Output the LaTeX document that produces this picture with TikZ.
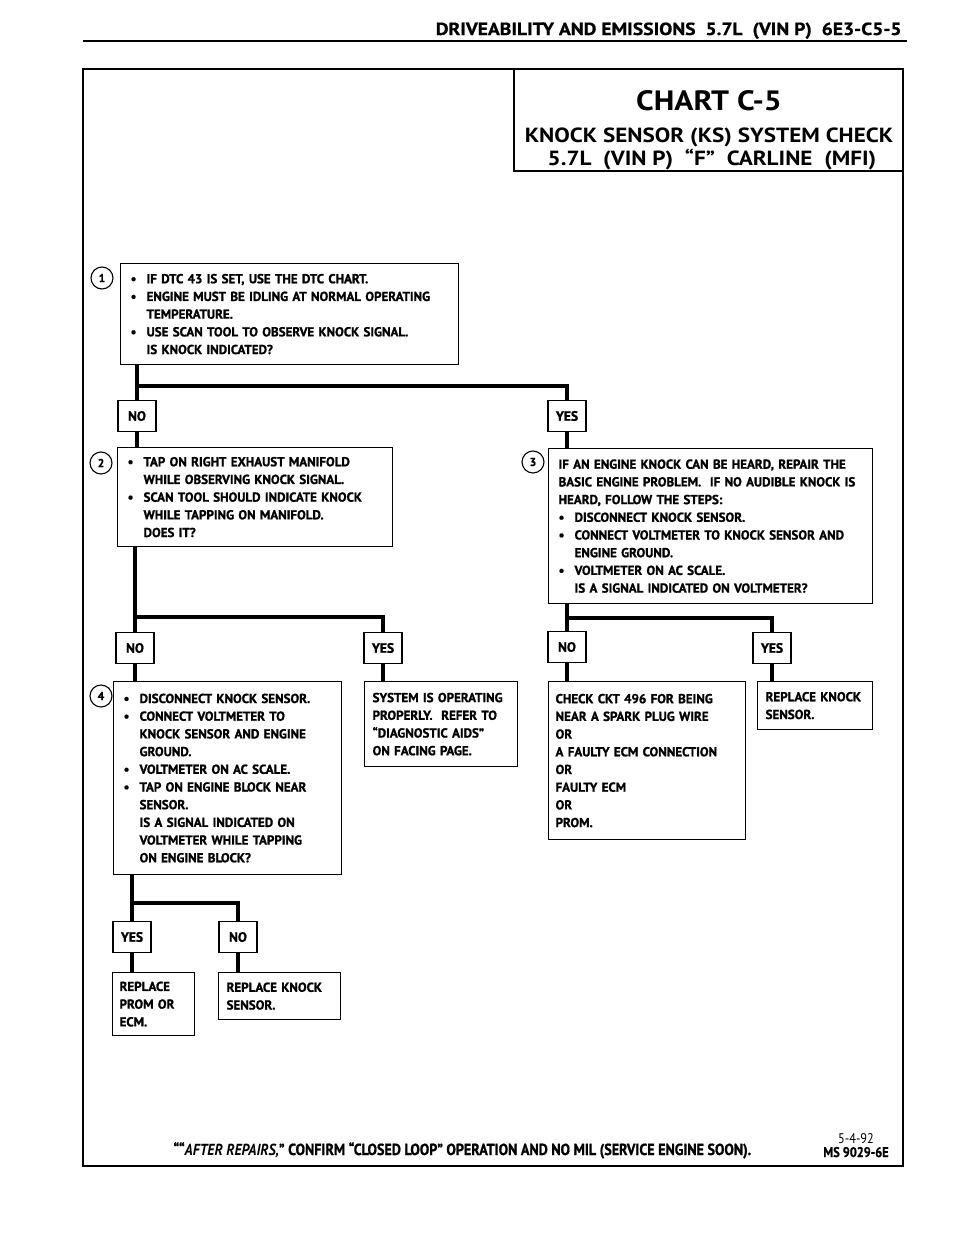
\documentclass[tikz,border=0pt]{standalone}
\usepackage{fontspec}
\setmainfont{PT Sans}[BoldFeatures={FakeBold=1.2}]
\newfontfamily\widefont{PT Sans}[FakeStretch=1.12, BoldFeatures={FakeBold=0.8}]
\newfontfamily\titlefont{PT Sans}[FakeStretch=1.13]
\newfontfamily\narrowfont{PT Sans}[FakeStretch=0.88, BoldFeatures={FakeBold=1}]
\usetikzlibrary{positioning}

\newcommand{\bul}{\makebox[16pt][l]{\textbullet}}
\newcommand{\ind}{\hspace*{16pt}}

\begin{document}
\begin{tikzpicture}[x=1pt, y=-1pt,
  stepbox/.style={draw, line width=1.2pt, rectangle, anchor=north west, inner xsep=10pt, inner ysep=4pt, align=left,
    font=\fontsize{13}{17.7}\selectfont\bfseries},
  answer/.style={draw, line width=1.2pt, rectangle, minimum width=38pt, minimum height=31pt, inner sep=0pt,
    font=\fontsize{13.5}{15}\selectfont\bfseries},
  stepnum/.style={draw, line width=1.1pt, circle, minimum size=22pt, inner sep=0pt,
    font=\fontsize{11.5}{12}\selectfont\bfseries},
  link/.style={line width=3.6pt}]
\useasboundingbox (0,0) rectangle (960,1250);

% page head and frame
\node (head) [anchor=base east, font=\widefont\fontsize{17.5}{20}\selectfont\bfseries] at (905,35)
  {DRIVEABILITY AND EMISSIONS\ \ 5.7L\ \ (VIN P)\ \ 6E3-C5-5};
\draw[line width=1.5pt] (83,41) -- (907,41);
\draw[line width=2pt] (83,69) rectangle (903,1166);
\draw[line width=1.2pt] (514,69) -- (514,171) -- (903,171);
\node (chart) [anchor=base, font=\titlefont\fontsize{28}{30}\selectfont\bfseries] at (709,110) {CHART C-5};
\node (title1) [anchor=base, font=\titlefont\fontsize{20.5}{24}\selectfont\bfseries] at (709,142) {KNOCK SENSOR (KS) SYSTEM CHECK};
\node (title2) [anchor=base, font=\titlefont\fontsize{20.5}{24}\selectfont\bfseries] at (712,165) {5.7L\ \ (VIN P)\ \ “F”\ \ CARLINE\ \ (MFI)};

% step boxes
\node (b1) [stepbox, text width=318pt, minimum height=101pt] at (120,263) {%
  \bul IF DTC 43 IS SET, USE THE DTC CHART.\\
  \bul ENGINE MUST BE IDLING AT NORMAL OPERATING\\
  \ind TEMPERATURE.\\
  \bul USE SCAN TOOL TO OBSERVE KNOCK SIGNAL.\\
  \ind IS KNOCK INDICATED?};
\node (b2) [stepbox, text width=255pt, minimum height=99pt] at (117,447) {%
  \bul TAP ON RIGHT EXHAUST MANIFOLD\\
  \ind WHILE OBSERVING KNOCK SIGNAL.\\
  \bul SCAN TOOL SHOULD INDICATE KNOCK\\
  \ind WHILE TAPPING ON MANIFOLD.\\
  \ind DOES IT?};
\node (b3) [stepbox, text width=304pt, minimum height=155pt] at (548,448) {%
  IF AN ENGINE KNOCK CAN BE HEARD, REPAIR THE\\
  BASIC ENGINE PROBLEM.\ \ IF NO AUDIBLE KNOCK IS\\
  HEARD, FOLLOW THE STEPS:\\
  \bul DISCONNECT KNOCK SENSOR.\\
  \bul CONNECT VOLTMETER TO KNOCK SENSOR AND\\
  \ind ENGINE GROUND.\\
  \bul VOLTMETER ON AC SCALE.\\
  \ind IS A SIGNAL INDICATED ON VOLTMETER?};
\node (b4) [stepbox, text width=208pt, minimum height=193pt] at (113,681) {%
  \bul DISCONNECT KNOCK SENSOR.\\
  \bul CONNECT VOLTMETER TO\\
  \ind KNOCK SENSOR AND ENGINE\\
  \ind GROUND.\\
  \bul VOLTMETER ON AC SCALE.\\
  \bul TAP ON ENGINE BLOCK NEAR\\
  \ind SENSOR.\\
  \ind IS A SIGNAL INDICATED ON\\
  \ind VOLTMETER WHILE TAPPING\\
  \ind ON ENGINE BLOCK?};
\node (sys) [stepbox, inner xsep=8pt, text width=137pt, minimum height=85pt] at (364,681) {%
  SYSTEM IS OPERATING\\
  PROPERLY.\ \ REFER TO\\
  “DIAGNOSTIC AIDS”\\
  ON FACING PAGE.};
\node (chk) [stepbox, inner xsep=7pt, text width=183pt, minimum height=158pt] at (548,681) {%
  CHECK CKT 496 FOR BEING\\
  NEAR A SPARK PLUG WIRE\\
  OR\\
  A FAULTY ECM CONNECTION\\
  OR\\
  FAULTY ECM\\
  OR\\
  PROM.};
\node (rks) [stepbox, inner xsep=8pt, text width=99pt, minimum height=48pt] at (757,681) {%
  REPLACE KNOCK\\
  SENSOR.};
\node (prom) [stepbox, inner xsep=7pt, text width=68pt, minimum height=63pt] at (112,972) {%
  REPLACE\\
  PROM OR\\
  ECM.};
\node (rkb) [stepbox, inner xsep=8pt, text width=106pt, minimum height=47pt] at (218,972) {%
  REPLACE KNOCK\\
  SENSOR.};

% step numbers
\node (n1) [stepnum] at (102,278) {1};
\node (n2) [stepnum] at (101,463) {2};
\node (n3) [stepnum] at (533,462) {3};
\node (n4) [stepnum] at (101,696) {4};

% answers
\node (no1) [answer] at (137,416) {NO};
\node (yes1) [answer] at (567,416) {YES};
\node (no2) [answer] at (135,648) {NO};
\node (yes2) [answer] at (383,648) {YES};
\node (no3) [answer] at (567,647) {NO};
\node (yes3) [answer] at (772,648) {YES};
\node (yes4) [answer] at (132,937) {YES};
\node (no4) [answer] at (238,937) {NO};

\coordinate (k1) at (137,386);
\coordinate (k2) at (135,617);
\coordinate (k3) at (567,618);
\coordinate (k4) at (132,903);

% connectors
\draw[link] (b1.south -| no1) -- (no1.north);
\draw[link] (k1) -| (yes1.north);
\draw[link] (no1.south) -- (no1.south |- b2.north);
\draw[link] (yes1.south) -- (yes1.south |- b3.north);
\draw[link] (b2.south -| no2) -- (no2.north);
\draw[link] (k2) -| (yes2.north);
\draw[link] (no2.south) -- (no2.south |- b4.north);
\draw[link] (yes2.south) -- (yes2.south |- sys.north);
\draw[link] (b3.south -| no3) -- (no3.north);
\draw[link] (k3) -| (yes3.north);
\draw[link] (no3.south) -- (no3.south |- chk.north);
\draw[link] (yes3.south) -- (yes3.south |- rks.north);
\draw[link] (b4.south -| yes4) -- (yes4.north);
\draw[link] (k4) -| (no4.north);
\draw[link] (yes4.south) -- (yes4.south |- prom.north);
\draw[link] (no4.south) -- (no4.south |- rkb.north);

% foot
\node (foot) [anchor=base west, font=\narrowfont\fontsize{16}{18}\selectfont\bfseries] at (170,1155)
  {““\textit{AFTER REPAIRS,}” CONFIRM “CLOSED LOOP” OPERATION AND NO MIL (SERVICE ENGINE SOON).};
\node (date) [anchor=base, font=\narrowfont\fontsize{14}{15}\selectfont] at (856,1143) {5-4-92};
\node (ms) [anchor=base, font=\narrowfont\fontsize{14}{15}\selectfont\bfseries] at (856,1157) {MS 9029-6E};

\end{tikzpicture}
\end{document}
